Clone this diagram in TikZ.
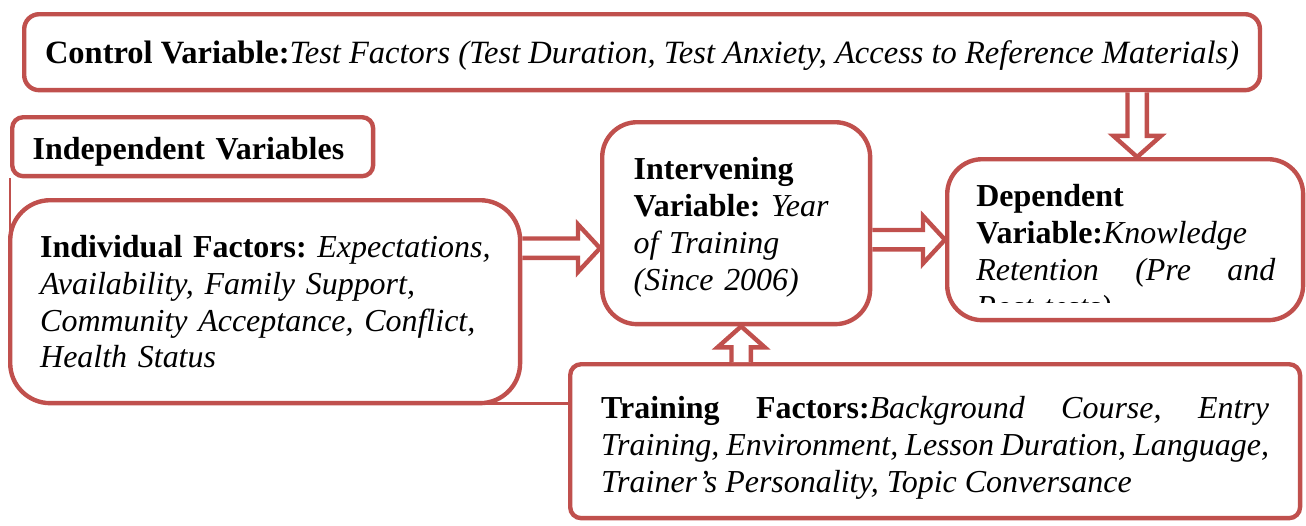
\documentclass[tikz,border=0pt]{standalone}
\usepackage{fontspec}
\setmainfont{Liberation Serif}
\usepackage{xcolor}
\usetikzlibrary{positioning, calc}

\definecolor{boxred}{HTML}{C0504D}

\begin{document}
\begin{tikzpicture}[
    x=0.02cm, y=-0.02cm,
    txt/.style={font=\fontsize{18.2}{21}\selectfont\frenchspacing},
    box/.style={rectangle, draw=boxred, line width=2.5pt, fill=white, rounded corners=#1, inner sep=0pt, anchor=north west, txt},
    box/.default=0.3cm,
    lower/.style={execute at begin node={\rule{0pt}{#1}}},
    frame/.style={draw=boxred, line width=1.7pt},
    harrow/.style={draw=boxred, line width=2.5pt, fill=white, line join=miter,
        to path={let \p1=(\tikztostart), \p2=(\tikztotarget), \n1={sign(\x2-\x1)} in
            (\x1,\y1+5.5pt) -- ({\x2-\n1*12.5pt},\y1+5.5pt) -- ({\x2-\n1*12.5pt},\y1+13.5pt) -- (\x2,\y2)
            -- ({\x2-\n1*12.5pt},\y1-13.5pt) -- ({\x2-\n1*12.5pt},\y1-5.5pt) -- (\x1,\y1-5.5pt)}},
    varrow/.style={draw=boxred, line width=2.5pt, fill=white, line join=miter,
        to path={let \p1=(\tikztostart), \p2=(\tikztotarget), \n1={sign(\y2-\y1)} in
            (\x1+5.5pt,\y1) -- (\x1+5.5pt,{\y2-\n1*12pt}) -- (\x1+13.5pt,{\y2-\n1*12pt}) -- (\x2,\y2)
            -- (\x1-13.5pt,{\y2-\n1*12pt}) -- (\x1-5.5pt,{\y2-\n1*12pt}) -- (\x1-5.5pt,\y1)}}
]
\useasboundingbox (0,0) rectangle (1306,525);

% Main components
\node[box=0.3cm, minimum width=24.72cm, minimum height=1.52cm, text height=12.8pt, text depth=0pt,
      font=\fontsize{18.5}{21}\selectfont] (ctrl) at (22,12)
    {\textbf{Control Variable:}\textit{Test Factors (Test Duration, Test Anxiety, Access to Reference Materials)}};
\node[box=0.22cm, minimum width=7.22cm, minimum height=1.18cm, text width=6.4cm, align=left,
      text height=14.9pt, text depth=0pt] (indep) at (10,115)
    {\textbf{Independent Variables}};
\node[box=0.22cm, minimum width=14.6cm, minimum height=3.08cm, text width=13.36cm, align=justify, lower=20.4pt] (tr) at (568,362)
    {\textbf{Training Factors:}\textit{Background Course, Entry}\linebreak
     \textit{Training, Environment, Lesson Duration, Language,}\linebreak
     \textit{Trainer's Personality, Topic Conversance}};

% Lines joining the independent variables
\draw[frame] (indep.south west) -- (indep.south west |- 0,301);
\draw[frame] (260,403) -- (tr.west |- 0,403);

\node[box=0.8cm, minimum width=10.2cm, minimum height=4.06cm, text width=9cm, align=left] (ind) at (8,198)
    {\mbox{\textbf{Individual Factors:} \textit{Expectations,}}\\
     \textit{Availability, Family Support,}\\
     \textit{Community Acceptance, Conflict,}\\
     \textit{Health Status}};
\node[box=0.7cm, minimum width=5.36cm, minimum height=4.04cm, text width=4.1cm, align=left, lower=17.4pt] (inter) at (600,120)
    {\textbf{Intervening}\\
     \textbf{Variable:} \textit{Year}\\
     \textit{of Training}\\
     \textit{(Since 2006)}};
\node[box=0.7cm, minimum width=7.12cm, minimum height=3.22cm] (dep) at (945,157) {};
\begin{scope}
    \clip (dep.north west) rectangle ([yshift=0.4cm]dep.south east);
    \node[txt, anchor=north west, inner sep=0pt, text width=5.98cm, align=justify] (deptxt) at (976,184)
        {\textbf{Dependent}\\
         \textbf{Variable:}\textit{Knowledge}\\
         \textit{Retention (Pre and}\linebreak
         \textit{Post-tests)}};
\end{scope}

% Arrows
\coordinate (indin) at ([yshift=-0.5cm]inter.west);
\coordinate (upin) at ([xshift=0.1cm]inter.south);
\coordinate (downin) at ([xshift=0.24cm]dep.north);
\draw[harrow] (ind.east |- indin) to (indin);
\draw[harrow] (inter.east |- dep.west) to (dep.west);
\draw[varrow] (tr.north -| upin) to (upin);
\draw[varrow] (ctrl.south -| downin) to (downin);
\end{tikzpicture}
\end{document}
